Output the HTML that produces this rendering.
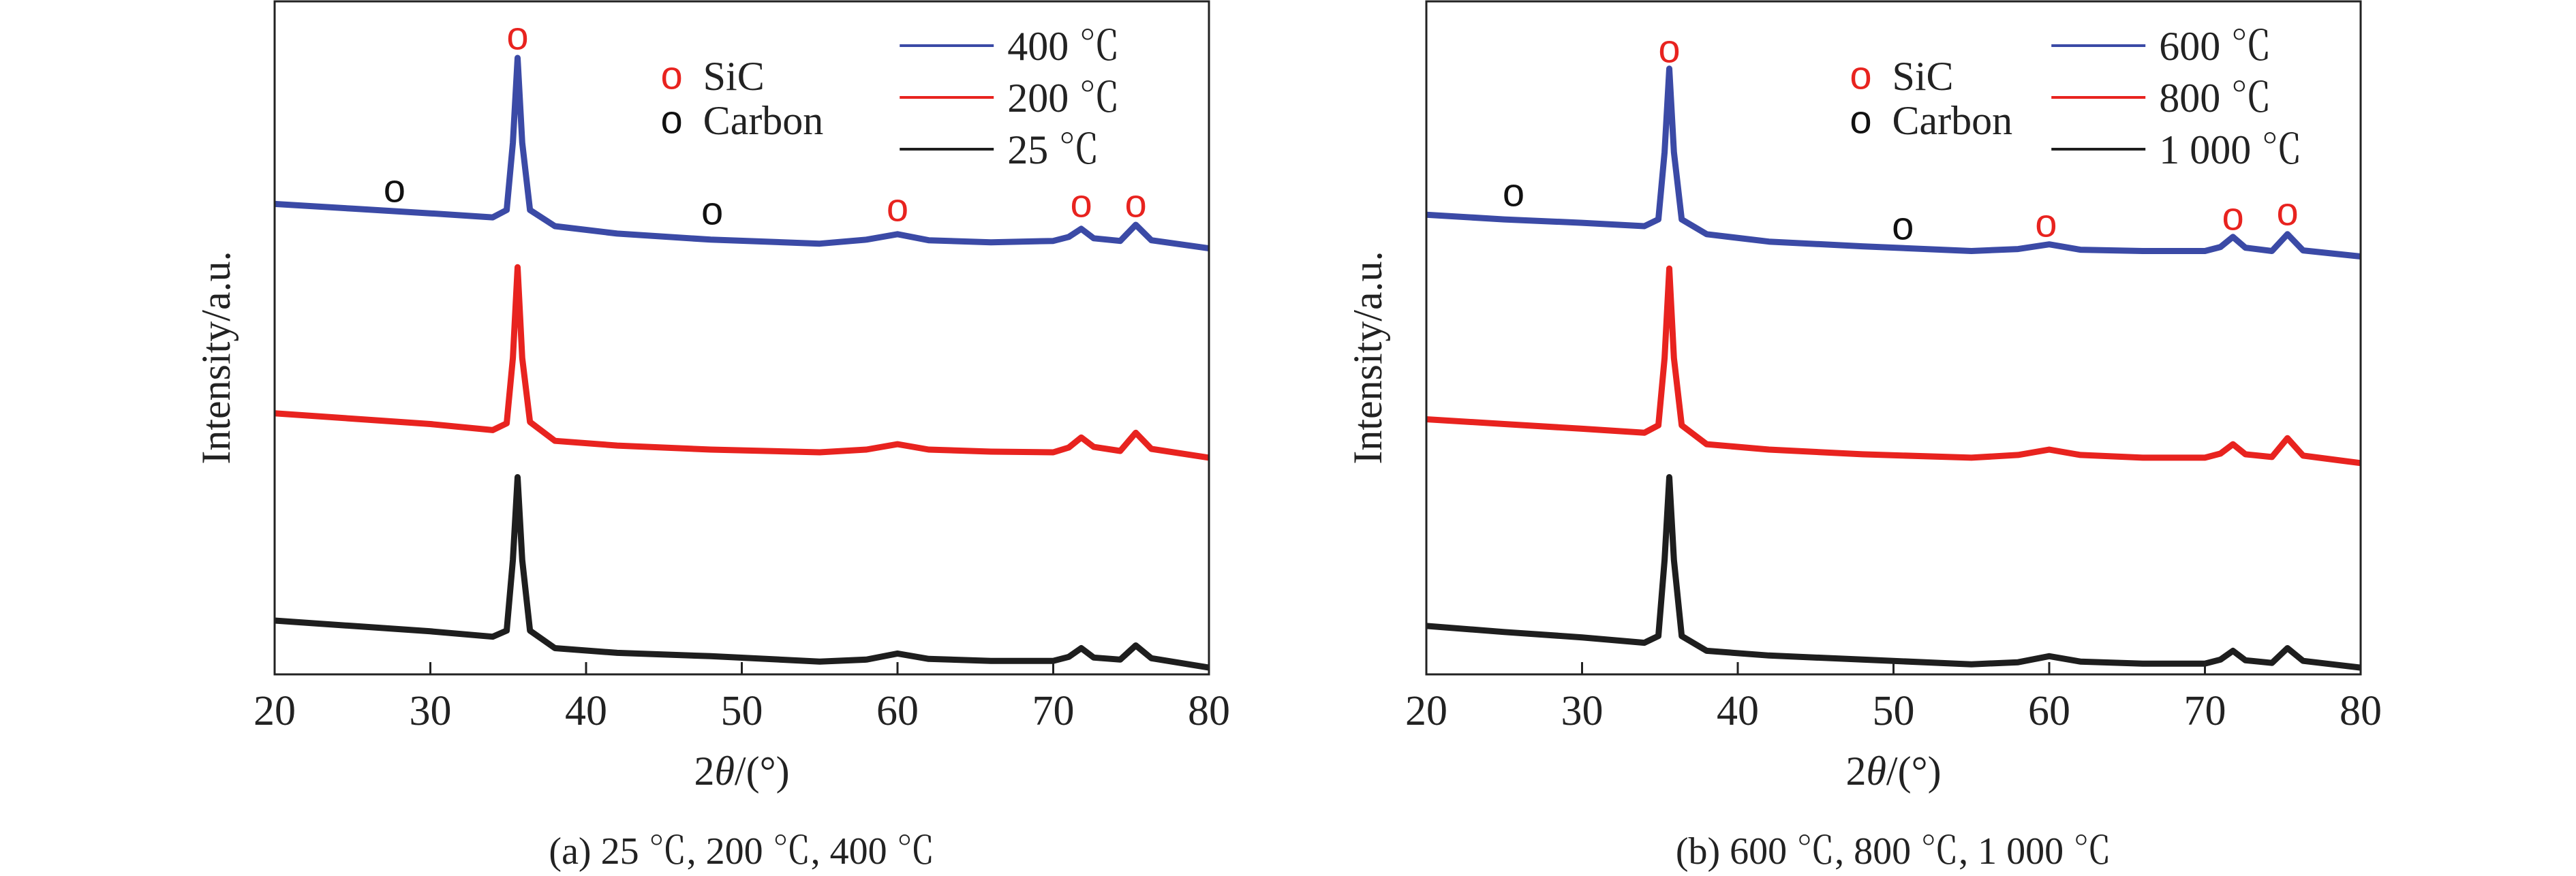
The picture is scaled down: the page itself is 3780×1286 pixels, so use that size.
<!DOCTYPE html>
<html><head><meta charset="utf-8"><style>
html,body{margin:0;padding:0;background:#fff}
svg{display:block}
text{font-family:"Liberation Serif","Noto Serif CJK SC",serif;fill:#222}
.mk{font-family:"Liberation Sans",sans-serif;font-size:58px;text-anchor:middle;dominant-baseline:central}
</style></head><body>
<svg id="chart" width="3780" height="1286" viewBox="0 0 3780 1286" xmlns="http://www.w3.org/2000/svg">
</svg>
<script>
const angles=[20,25,30,34,34.9,35.3,35.6,35.9,36.4,38,42,48,55,58,60,62,66,70,71,71.8,72.6,74.3,75.3,76.3,80];
const a400=[699,692,685,679,690,790,916,790,690,666,655,646,640,646,654,645,642,644,650,662,648,644,668,645,633];
const a200=[388,380,372,363,373,470,605,470,375,347,340,334,330,334,342,334,331,330,337,352,338,332,359,335,322];
const a25=[80,72,64,56,65,170,293,170,65,39,32,27,19,22,31,23,20,20,26,39,25,22,43,24,10];
const b600=[683,676,671,666,676,776,900,776,676,654,643,636,629,632,639,631,629,629,635,650,634,629,654,630,621];
const b800=[379,372,365,359,370,470,603,470,370,342,334,327,322,326,334,326,322,322,328,342,327,323,351,325,314];
const b1000=[72,63,55,47,57,170,293,170,57,35,28,22,15,18,27,19,16,16,22,35,21,17,39,20,10];
const xTicks=[20,30,40,50,60,70,80];
const legendA=["400 ℃","200 ℃","25 ℃"];
const legendB=["600 ℃","800 ℃","1 000 ℃"];
const markA=[[35.6,"r",53],[27.7,"k",277],[48.1,"k",310],[60,"r",305],[71.8,"r",299],[75.3,"r",299]];
const markB=[[35.6,"r",72],[25.6,"k",283],[50.6,"k",332],[59.8,"r",328],[71.8,"r",318],[75.3,"r",311]];
const colors=["#3b4aa6","#e8231f","#1e1e1e"];
const NS="http://www.w3.org/2000/svg";
const svg=document.getElementById('chart');
function el(t,a,p){const e=document.createElementNS(NS,t);for(const k in a)e.setAttribute(k,a[k]);(p||svg).appendChild(e);return e;}
function panel(x0,x1,id,series,names,marks,caption){
  const top=2,bot=990;
  const g=el('g',{});
  
  
  const xs=v=>x0+(v-20)/60*(x1-x0);
  const ys=v=>bot-(v/1000)*(bot-top);
  series.forEach((s,i)=>{
    let d='';
    s.forEach((v,j)=>{d+=(j?'L':'M')+xs(angles[j]).toFixed(1)+' '+ys(v).toFixed(1);});
    const p=el('path',{d:d,fill:'none',stroke:colors[i],'stroke-width':9,'stroke-linejoin':'round'},g);
    
    
  });
  const fr=el('rect',{x:x0,y:top,width:x1-x0,height:bot-top,fill:'none',stroke:'#222','stroke-width':3},g);
  
  
  xTicks.forEach(t=>{
    const x=xs(t);
    const tk=el('line',{x1:x,x2:x,y1:bot,y2:bot-18,stroke:'#222','stroke-width':3},g);
    
    
    const tl=el('text',{x:x,y:1064,'font-size':62,'text-anchor':'middle'},g);
    tl.textContent=t;
    
    
  });
  const xt=el('text',{x:(x0+x1)/2,y:1152,'font-size':60,'text-anchor':'middle'},g);
  xt.innerHTML='2<tspan font-style="italic">θ</tspan>/(°)';
  
  
  const yt=el('text',{x:0,y:0,'font-size':60,'text-anchor':'middle',transform:`translate(${x0-66},${525}) rotate(-90)`},g);
  yt.textContent='Intensity/a.u.';
  
  
  const cp=el('text',{x:(x0+x1)/2,y:1268,'font-size':56,'text-anchor':'middle'},g);
  cp.textContent=caption;
  
  
  const lx=x0+(x1-x0)*0.669;
  names.forEach((n,i)=>{
    const y=67+i*76;
    const ln=el('line',{x1:lx,x2:lx+138,y1:y,y2:y,stroke:colors[i],'stroke-width':4},g);
    
    
    const lt=el('text',{x:lx+158,y:y+21,'font-size':60},g);
    lt.textContent=n;
    
    
  });
  const sx=x0+(x1-x0)*(id==='panel-a'?0.425:0.465);
  const s1=el('text',{x:sx,y:111,class:'mk',style:'fill:#e8231f'},g);s1.textContent='o';
  
  
  const s2=el('text',{x:sx+46,y:132,'font-size':60},g);s2.textContent='SiC';
  
  
  const c1=el('text',{x:sx,y:176,class:'mk',style:'fill:#111'},g);c1.textContent='o';
  
  
  const c2=el('text',{x:sx+46,y:197,'font-size':60},g);c2.textContent='Carbon';
  
  
  marks.forEach(m=>{
    const t=el('text',{x:xs(m[0]),y:m[2],class:'mk',style:'fill:'+(m[1]==='r'?'#e8231f':'#111')},g);
    t.textContent='o';
    
    
  });
}
panel(403,1774,'panel-a',[a400,a200,a25],legendA,markA,'(a) 25 ℃, 200 ℃, 400 ℃');
panel(2093,3464,'panel-b',[b600,b800,b1000],legendB,markB,'(b) 600 ℃, 800 ℃, 1 000 ℃');
</script>
</body></html>
